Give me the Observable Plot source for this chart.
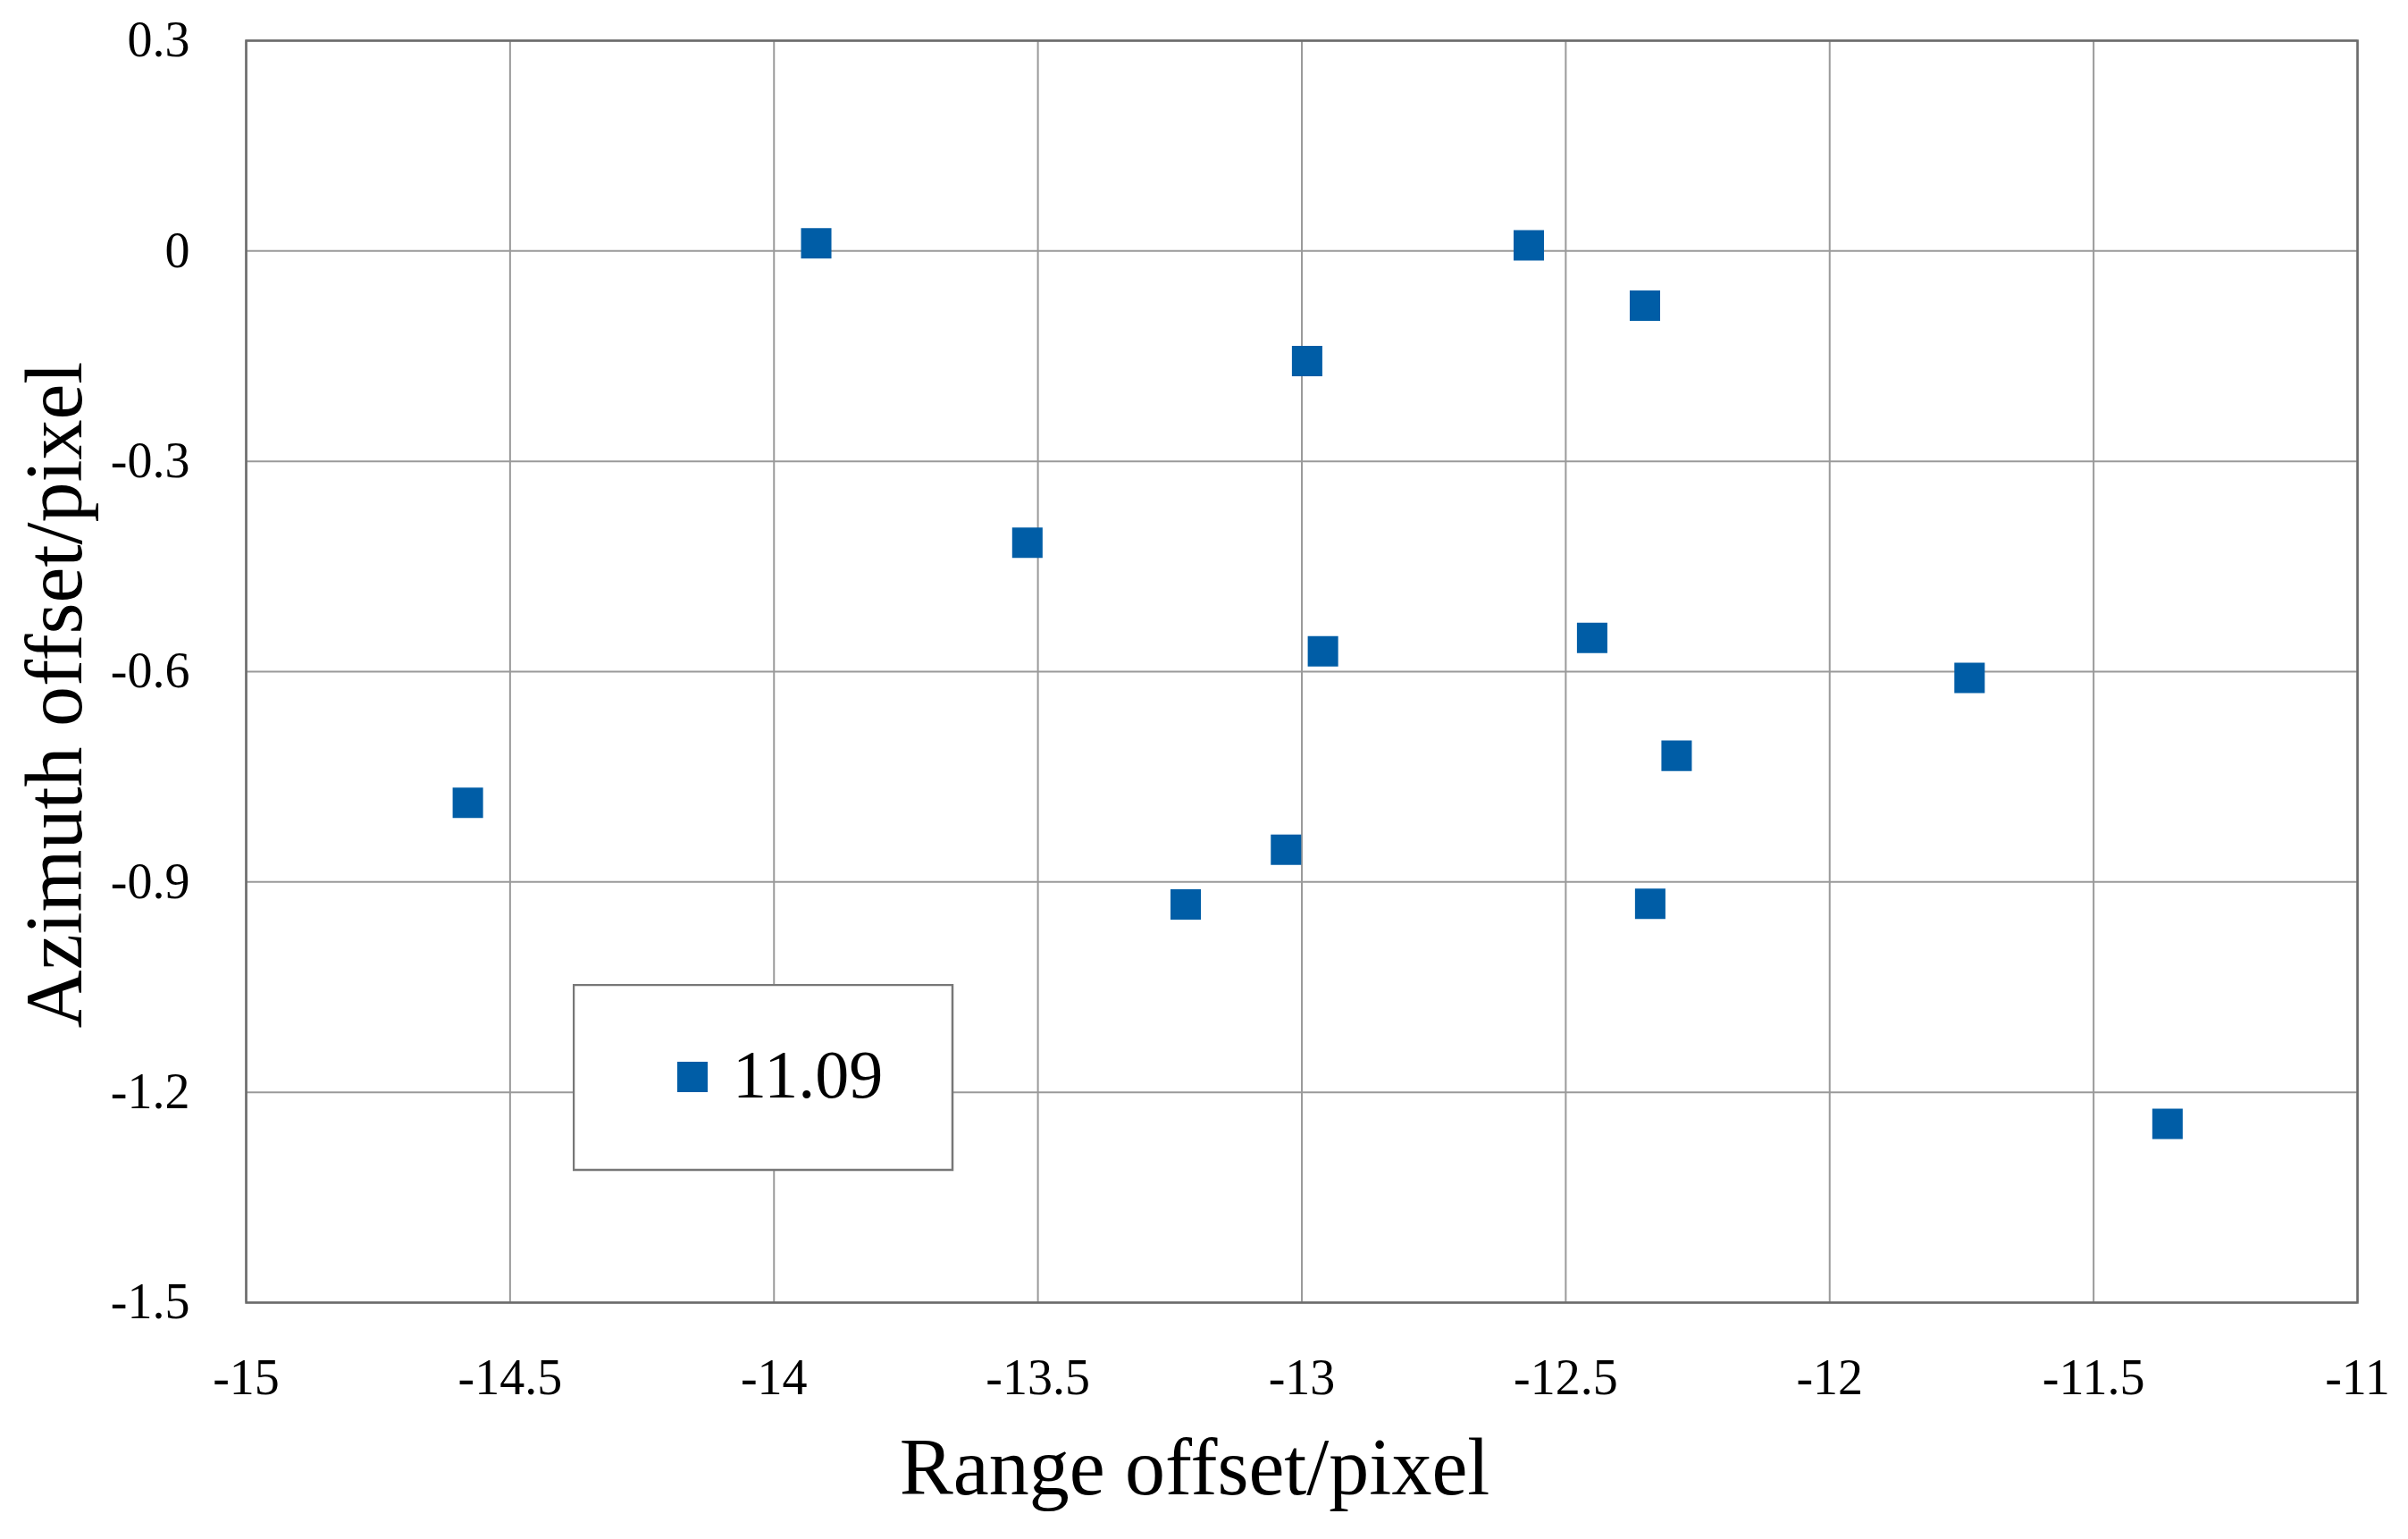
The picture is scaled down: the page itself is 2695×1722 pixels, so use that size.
<!DOCTYPE html>
<html>
<head>
<meta charset="utf-8">
<script src="https://cdn.jsdelivr.net/npm/d3@7"></script>
<script src="https://cdn.jsdelivr.net/npm/@observablehq/plot@0.6"></script>
<style>
  html, body { margin: 0; padding: 0; background: #fff; }
  #wrap { position: relative; width: 2695px; height: 1722px; font-family: "Liberation Serif", "Times New Roman", serif; }
  #legend { position: absolute; left: 641px; top: 1101px; }
</style>
</head>
<body>
<div id="wrap">
  <div id="chart"></div>
  <div id="legend"></div>
</div>
<script>
// ---- data ----
const rangeOffset   = [-14.58, -13.92, -13.52, -13.22, -13.03, -12.99, -12.96, -12.57, -12.45, -12.35, -12.34, -12.29, -11.735, -11.36];
const azimuthOffset = [-0.787,  0.011, -0.416, -0.932, -0.854, -0.157, -0.571,  0.008, -0.552, -0.078, -0.931, -0.720, -0.609, -1.245];
const xTicks = [-15, -14.5, -14, -13.5, -13, -12.5, -12, -11.5, -11];
const yTicks = [0.3, 0, -0.3, -0.6, -0.9, -1.2, -1.5];
const seriesName = "11.09";
const xTitle = "Range offset/pixel";
const yTitle = "Azimuth offset/pixel";

const points = rangeOffset.map((x, i) => ({x, y: azimuthOffset[i]}));
const color = "#005DA6";
const font = "Liberation Serif";

const chart = Plot.plot({
  width: 2695,
  height: 1722,
  marginLeft: 275,
  marginRight: 57,
  marginTop: 45,
  marginBottom: 265,
  style: {fontFamily: font, fontSize: "56px", color: "#000", background: "#fff", overflow: "visible"},
  x: {domain: [-15, -11]},
  y: {domain: [-1.5, 0.3]},
  marks: [
    Plot.gridX(xTicks, {stroke: "#9a9a9a", strokeOpacity: 1, strokeWidth: 2}),
    Plot.gridY(yTicks, {stroke: "#9a9a9a", strokeOpacity: 1, strokeWidth: 2}),
    Plot.frame({stroke: "#6b6b6b", strokeWidth: 2.5}),
    Plot.axisX(xTicks, {tickSize: 0, tickPadding: 63, tickFormat: d => String(d), fontSize: 56, label: null, fill: "#000"}),
    Plot.axisY(yTicks, {tickSize: 0, tickPadding: 63, tickFormat: d => String(d), fontSize: 56, label: null, fill: "#000"}),
    Plot.dot(points, {x: "x", y: "y", symbol: "square", r: 19.2, fill: color, stroke: null}),
    Plot.text([xTitle], {text: d => d, frameAnchor: "bottom", lineAnchor: "bottom", dy: 214, dx: -120, fontSize: 90, fill: "#000"}),
    Plot.text([yTitle], {text: d => d, frameAnchor: "left", textAnchor: "middle", rotate: -90, lineAnchor: "bottom", dx: -185, dy: 26, fontSize: 90, fill: "#000"})
  ]
});
document.getElementById("chart").appendChild(chart);

// legend box
const lg = d3.select("#legend").append("svg").attr("width", 427).attr("height", 210);
lg.append("rect").attr("x", 1).attr("y", 1).attr("width", 424).attr("height", 207)
  .attr("fill", "#fff").attr("stroke", "#777").attr("stroke-width", 2.5);
lg.append("rect").attr("x", 117).attr("y", 87).attr("width", 34).attr("height", 34).attr("fill", color);
lg.append("text").attr("x", 179).attr("y", 127).attr("font-family", font).attr("font-size", 76)
  .attr("fill", "#000").text(seriesName);
</script>
</body>
</html>
